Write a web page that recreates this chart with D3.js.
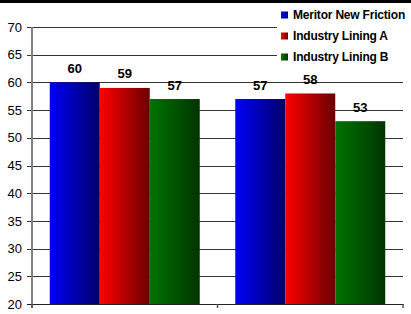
<!DOCTYPE html>
<html><head><meta charset="utf-8">
<script src="https://cdn.jsdelivr.net/npm/d3@7"></script>
<style>html,body{margin:0;padding:0;background:#fff;}svg{display:block;}</style>
</head><body>
<script>
const categories = ["Group 1", "Group 2"];
const seriesNames = ["Meritor New Friction", "Industry Lining A", "Industry Lining B"];
const meritorValues = [60, 57];
const liningAValues = [59, 58];
const liningBValues = [57, 53];
const yTicks = [20, 25, 30, 35, 40, 45, 50, 55, 60, 65, 70];
const seriesValues = [meritorValues, liningAValues, liningBValues];
const gradStops = [["#0000f8", "#00006a"], ["#ff0000", "#6a0000"], ["#007400", "#003400"]];

(function () {
const W = 411, H = 314;
const svg = d3.select("body").append("svg").attr("width", W).attr("height", H);
const defs = svg.append("defs");
gradStops.forEach((g, i) => {
  const lg = defs.append("linearGradient").attr("id", "g" + i).attr("x1", "0").attr("x2", "1").attr("y1", "0").attr("y2", "0");
  lg.append("stop").attr("offset", "0").attr("stop-color", g[0]);
  lg.append("stop").attr("offset", "1").attr("stop-color", g[1]);
});

const pLeft = 32, pRight = 403, pTop = 27, pBottom = 304;
const x = d3.scaleBand().domain(categories).range([pLeft, pRight]).paddingInner(0).paddingOuter(0);
const xs = d3.scaleBand().domain(d3.range(3)).range([0, x.bandwidth()]).paddingOuter(0.355).paddingInner(0);
const y = d3.scaleLinear().domain([20, 70]).range([pBottom, pTop]);

// gridlines
svg.append("g").selectAll("line").data(yTicks.filter(t => t > 20)).join("line")
  .attr("x1", pLeft - 5).attr("x2", pRight)
  .attr("y1", d => Math.round(y(d)) + 0.5).attr("y2", d => Math.round(y(d)) + 0.5)
  .attr("stroke", "#333").attr("stroke-width", 1);

// y labels
svg.append("g").selectAll("text").data(yTicks).join("text")
  .attr("x", 22).attr("y", d => y(d)).attr("dy", "0.36em")
  .attr("text-anchor", "end").attr("font-family", "Liberation Sans, Arial, sans-serif")
  .attr("font-size", 13).attr("fill", "#000").text(d => d);

// bars
categories.forEach((c, ci) => {
  seriesValues.forEach((vals, si) => {
    const v = vals[ci];
    const bx = x(c) + xs(si);
    svg.append("rect").attr("x", bx).attr("y", y(v)).attr("width", xs.bandwidth())
      .attr("height", pBottom - y(v)).attr("fill", "url(#g" + si + ")");
    svg.append("text").attr("x", bx + xs.bandwidth() / 2).attr("y", y(v) - 9.5)
      .attr("text-anchor", "middle").attr("font-family", "Liberation Sans, Arial, sans-serif")
      .attr("font-weight", "bold").attr("font-size", 13).attr("fill", "#000").text(v);
  });
});

// axes
svg.append("line").attr("x1", pLeft).attr("x2", pLeft).attr("y1", pTop).attr("y2", pBottom + 4)
  .attr("stroke", "#808080").attr("stroke-width", 2);
svg.append("line").attr("x1", pLeft - 5).attr("x2", pRight + 1).attr("y1", pBottom + 0.5).attr("y2", pBottom + 0.5)
  .attr("stroke", "#222").attr("stroke-width", 1.2);
const xt = [pLeft, x(categories[1]), pRight];
svg.append("g").selectAll("line").data(xt).join("line")
  .attr("x1", d => d).attr("x2", d => d).attr("y1", pBottom).attr("y2", pBottom + 4)
  .attr("stroke", "#555").attr("stroke-width", 1.5);

// legend
svg.append("rect").attr("x", 277).attr("y", 3).attr("width", W - 277).attr("height", 62).attr("fill", "#fff");
const legRows = [15, 36, 57];
seriesNames.forEach((n, i) => {
  svg.append("rect").attr("x", 281).attr("y", legRows[i] - 3.5).attr("width", 7).attr("height", 7).attr("fill", "url(#g" + i + ")");
  svg.append("text").attr("x", 293).attr("y", legRows[i]).attr("dy", "0.36em")
    .attr("font-family", "Liberation Sans, Arial, sans-serif").attr("font-weight", "bold")
    .attr("font-size", 12).attr("letter-spacing", "-0.2").attr("fill", "#000").text(n);
});

// top black bar
svg.append("rect").attr("x", 0).attr("y", 0).attr("width", W).attr("height", 3).attr("fill", "#000");
})();
</script>
</body></html>
